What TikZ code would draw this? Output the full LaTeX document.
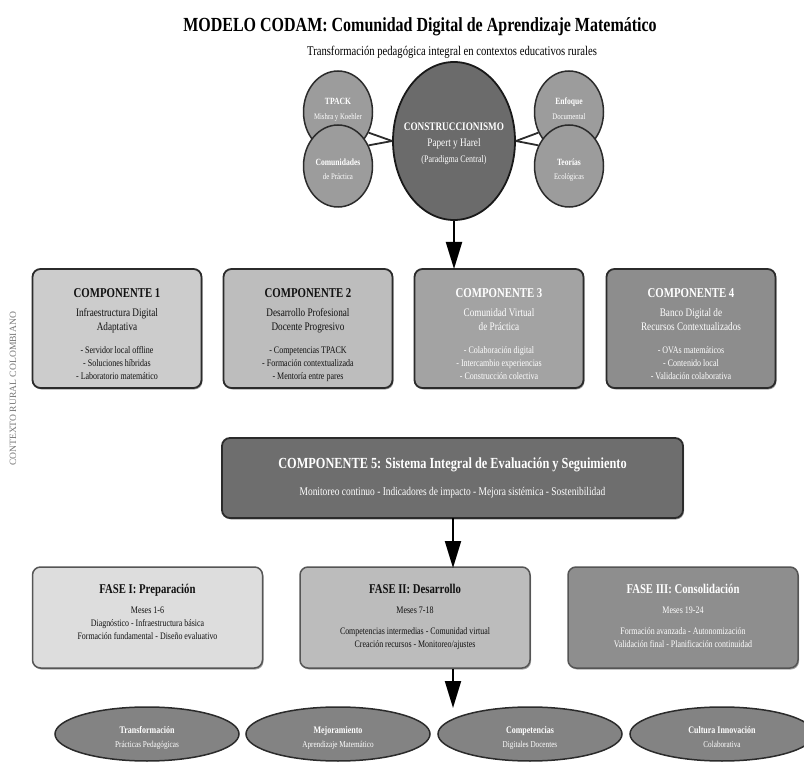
\documentclass[tikz,border=0pt]{standalone}
\usepackage{fontspec}
\setmainfont[FakeStretch=0.8]{Liberation Serif}
\newfontfamily\plainserif{Liberation Serif}
\usetikzlibrary{arrows.meta,shapes.geometric,shadows}
\definecolor{bordc}{HTML}{2B2B2B}
\definecolor{cA}{HTML}{CCCCCC}
\definecolor{cB}{HTML}{BDBDBD}
\definecolor{cC}{HTML}{A3A3A3}
\definecolor{cD}{HTML}{8D8D8D}
\definecolor{cE}{HTML}{6E6E6E}
\definecolor{fA}{HTML}{DDDDDD}
\definecolor{fB}{HTML}{BCBCBC}
\definecolor{fC}{HTML}{8E8E8E}
\definecolor{ellc}{HTML}{838383}
\definecolor{smc}{HTML}{9C9C9C}
\definecolor{cenc}{HTML}{6B6B6B}
\definecolor{darktxt}{HTML}{111111}
\definecolor{sidetxt}{HTML}{777777}
\newcommand\myfs[1]{\fontsize{#1}{#1}\selectfont}
\tikzset{
  lbl/.style={anchor=base, inner sep=0pt, outer sep=0pt},
  wt/.style={lbl, text=white},
  dk/.style={lbl, text=darktxt},
  shd/.style={drop shadow={shadow xshift=1pt, shadow yshift=-1.5pt, opacity=0.35, fill=black}},
  compbox/.style={draw=bordc, line width=1.8pt, rounded corners=8pt, minimum width=169pt, minimum height=119pt, inner sep=0pt, shd},
  bigbox/.style={draw=bordc, line width=1.8pt, rounded corners=8pt, minimum width=461pt, minimum height=80pt, inner sep=0pt, shd},
  fasebox/.style={draw=bordc!80, line width=1.5pt, rounded corners=8pt, minimum width=230pt, minimum height=101pt, inner sep=0pt, shd},
  smallc/.style={ellipse, draw=bordc, line width=1.5pt, fill=smc, minimum width=69pt, minimum height=82pt, inner sep=0pt},
  cenell/.style={ellipse, draw=black!90, line width=1.8pt, fill=cenc, minimum width=122pt, minimum height=158pt, inner sep=0pt},
  outell/.style={ellipse, draw=bordc, line width=1.5pt, fill=ellc, minimum width=184pt, minimum height=54pt, inner sep=0pt},
  link/.style={draw=bordc, line width=1.8pt},
  bigarrow/.style={draw=black, line width=2pt, -{Triangle[length=27pt,width=16pt]}},
}
\begin{document}
\begin{tikzpicture}[x=1pt,y=-1pt]
\useasboundingbox (0,0) rectangle (804,762);

% title
\node[lbl, font=\myfs{20}\bfseries] (title) at (420,32) {MODELO CODAM: Comunidad Digital de Aprendizaje Matemático};
\node[lbl, font=\myfs{13.3}] (subtitle) at (452,56) {Transformación pedagógica integral en contextos educativos rurales};

% side text
\node[inner sep=0pt, rotate=90, text=sidetxt, font=\plainserif\myfs{9.6}] (side) at (13,389) {CONTEXTO RURAL COLOMBIANO};

% theory circles
\node[smallc] (tpack) at (338,112) {};
\node[wt, font=\myfs{9.5}\bfseries] (tpackA) at (338,105) {TPACK};
\node[wt, font=\myfs{8.5}] (tpackB) at (338,119.5) {Mishra y Koehler};
\node[smallc] (comu) at (338,166) {};
\node[wt, font=\myfs{9.5}\bfseries] (comuA) at (338,166) {Comunidades};
\node[wt, font=\myfs{8.5}] (comuB) at (338,180) {de Práctica};

\node[smallc] (enfo) at (569,112) {};
\node[wt, font=\myfs{9.5}\bfseries] (enfoA) at (569,105) {Enfoque};
\node[wt, font=\myfs{8.5}] (enfoB) at (569,119.5) {Documental};
\node[smallc] (teor) at (569,166) {};
\node[wt, font=\myfs{9.5}\bfseries] (teorA) at (569,166) {Teorías};
\node[wt, font=\myfs{8.5}] (teorB) at (569,180) {Ecológicas};

\node[cenell] (cen) at (454,141) {};
\node[wt, font=\myfs{11.5}\bfseries] (cenA) at (454,130.5) {CONSTRUCCIONISMO};
\node[wt, font=\myfs{11.5}] (cenB) at (454,146.5) {Papert y Harel};
\node[wt, font=\myfs{10}] (cenC) at (454,162.5) {(Paradigma Central)};

\draw[link] (tpack.-34) -- (cen.west);
\draw[link] (comu.34) -- (cen.west);
\draw[link] (enfo.214) -- (cen.east);
\draw[link] (teor.146) -- (cen.east);

% components
\node[compbox, fill=cA] (c1) at (117,328.5) {};
\node[compbox, fill=cB] (c2) at (308,328.5) {};
\node[compbox, fill=cC] (c3) at (499,328.5) {};
\node[compbox, fill=cD] (c4) at (691,328.5) {};

\node[dk, font=\myfs{13.5}\bfseries] (c1t) at (117,297.5) {COMPONENTE 1};
\node[dk, font=\myfs{11.5}] (c1a) at (117,316.5) {Infraestructura Digital};
\node[dk, font=\myfs{11.5}] (c1b) at (117,330.5) {Adaptativa};
\node[dk, font=\myfs{10}] (c1c) at (117,353) {- Servidor local offline};
\node[dk, font=\myfs{10}] (c1d) at (117,366.5) {- Soluciones híbridas};
\node[dk, font=\myfs{10}] (c1e) at (117,380) {- Laboratorio matemático};

\node[dk, font=\myfs{13.5}\bfseries] (c2t) at (308,297.5) {COMPONENTE 2};
\node[dk, font=\myfs{11.5}] (c2a) at (308,316.5) {Desarrollo Profesional};
\node[dk, font=\myfs{11.5}] (c2b) at (308,330.5) {Docente Progresivo};
\node[dk, font=\myfs{10}] (c2c) at (308,353) {- Competencias TPACK};
\node[dk, font=\myfs{10}] (c2d) at (308,366.5) {- Formación contextualizada};
\node[dk, font=\myfs{10}] (c2e) at (308,380) {- Mentoría entre pares};

\node[wt, font=\myfs{13.5}\bfseries] (c3t) at (499,297.5) {COMPONENTE 3};
\node[wt, font=\myfs{11.5}] (c3a) at (499,316.5) {Comunidad Virtual};
\node[wt, font=\myfs{11.5}] (c3b) at (499,330.5) {de Práctica};
\node[wt, font=\myfs{10}] (c3c) at (499,353) {- Colaboración digital};
\node[wt, font=\myfs{10}] (c3d) at (499,366.5) {- Intercambio experiencias};
\node[wt, font=\myfs{10}] (c3e) at (499,380) {- Construcción colectiva};

\node[wt, font=\myfs{13.5}\bfseries] (c4t) at (691,297.5) {COMPONENTE 4};
\node[wt, font=\myfs{11.5}] (c4a) at (691,316.5) {Banco Digital de};
\node[wt, font=\myfs{11.5}] (c4b) at (691,330.5) {Recursos Contextualizados};
\node[wt, font=\myfs{10}] (c4c) at (691,353) {- OVAs matemáticos};
\node[wt, font=\myfs{10}] (c4d) at (691,366.5) {- Contenido local};
\node[wt, font=\myfs{10}] (c4e) at (691,380) {- Validación colaborativa};

\coordinate (a1end) at (454,269);
\draw[bigarrow] (cen.south) -- (a1end);

% component 5
\node[bigbox, fill=cE] (c5) at (452.5,478) {};
\node[wt, font=\myfs{15.4}\bfseries] (c5t) at (452.5,468) {COMPONENTE 5: Sistema Integral de Evaluación y Seguimiento};
\node[wt, font=\myfs{11.8}] (c5a) at (452.5,495.5) {Monitoreo continuo - Indicadores de impacto - Mejora sistémica - Sostenibilidad};

% phases
\node[fasebox, fill=fA] (f1) at (147.5,617.5) {};
\node[fasebox, fill=fB] (f2) at (415,617.5) {};
\node[fasebox, fill=fC] (f3) at (683,617.5) {};

\coordinate (a2start) at (453,518);
\coordinate (a2end) at (453,568);
\draw[bigarrow] (a2start) -- (a2end);

\node[dk, font=\myfs{13.4}\bfseries] (f1t) at (147.5,593) {FASE I: Preparación};
\node[dk, font=\myfs{10}] (f1a) at (147.5,613.5) {Meses 1-6};
\node[dk, font=\myfs{9.9}] (f1b) at (147.5,626) {Diagnóstico - Infraestructura básica};
\node[dk, font=\myfs{9.9}] (f1c) at (147.5,639.5) {Formación fundamental - Diseño evaluativo};

\node[dk, font=\myfs{13.4}\bfseries] (f2t) at (415,593) {FASE II: Desarrollo};
\node[dk, font=\myfs{10}] (f2a) at (415,613.5) {Meses 7-18};
\node[dk, font=\myfs{9.9}] (f2b) at (415,634) {Competencias intermedias - Comunidad virtual};
\node[dk, font=\myfs{9.9}] (f2c) at (415,647.5) {Creación recursos - Monitoreo/ajustes};

\node[wt, font=\myfs{13.4}\bfseries] (f3t) at (683,593) {FASE III: Consolidación};
\node[wt, font=\myfs{10}] (f3a) at (683,613.5) {Meses 19-24};
\node[wt, font=\myfs{9.9}] (f3b) at (683,634) {Formación avanzada - Autonomización};
\node[wt, font=\myfs{9.9}] (f3c) at (683,647.5) {Validación final - Planificación continuidad};

% outcomes
\node[outell] (e1) at (147,734) {};
\node[outell] (e2) at (338,734) {};
\node[outell] (e3) at (530,734) {};
\node[outell] (e4) at (722,734) {};
\node[wt, font=\myfs{10}\bfseries] (e1a) at (147,733.5) {Transformación};
\node[wt, font=\myfs{9}] (e1b) at (147,747) {Prácticas Pedagógicas};
\node[wt, font=\myfs{10}\bfseries] (e2a) at (338,733.5) {Mejoramiento};
\node[wt, font=\myfs{9}] (e2b) at (338,747) {Aprendizaje Matemático};
\node[wt, font=\myfs{10}\bfseries] (e3a) at (530,733.5) {Competencias};
\node[wt, font=\myfs{9}] (e3b) at (530,747) {Digitales Docentes};
\node[wt, font=\myfs{10}\bfseries] (e4a) at (722,733.5) {Cultura Innovación};
\node[wt, font=\myfs{9}] (e4b) at (722,747) {Colaborativa};

\coordinate (a3end) at (453,708);
\draw[bigarrow] (f2.south -| a3end) -- (a3end);
\end{tikzpicture}
\end{document}
